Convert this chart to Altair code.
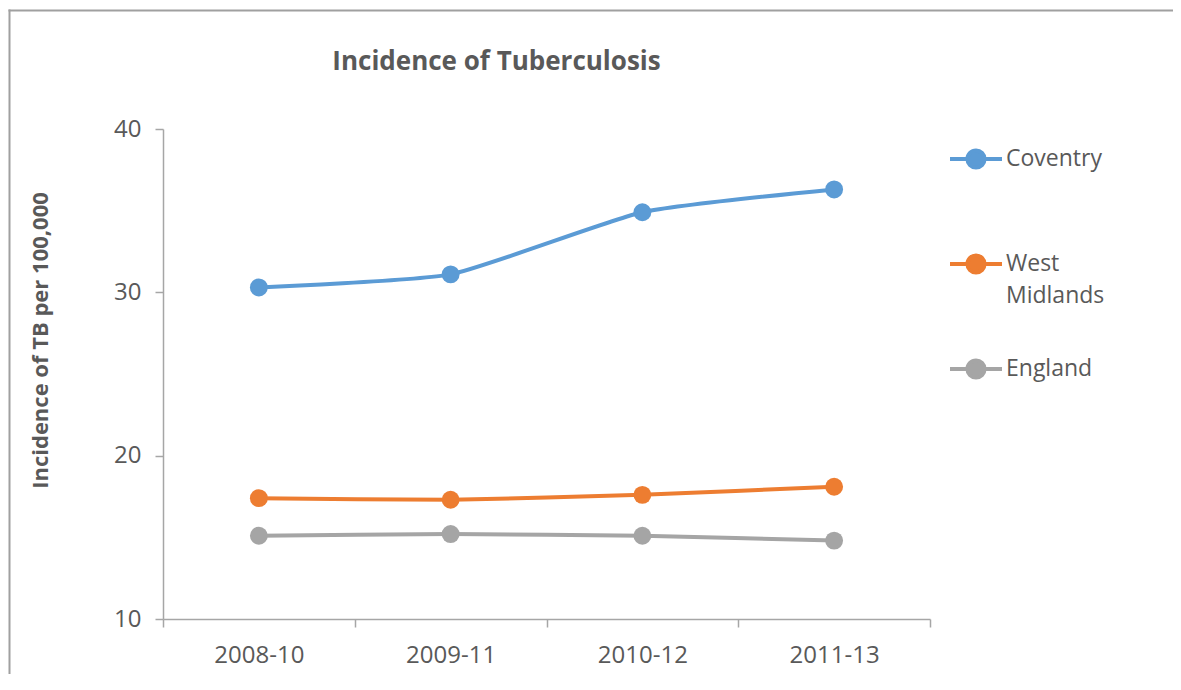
import altair as alt
import pandas as pd

periods = ["2008-10", "2009-11", "2010-12", "2011-13"]
series_names = ["Coventry", "West Midlands", "England"]
coventry = [30.3, 31.1, 34.9, 36.3]
west_midlands = [17.4, 17.3, 17.6, 18.1]
england = [15.1, 15.2, 15.1, 14.8]
series_colors = ["#5B9BD5", "#ED7D31", "#A5A5A5"]
y_ticks = [10, 20, 30, 40]

rows = []
for name, vals in zip(series_names, [coventry, west_midlands, england]):
    for p, v in zip(periods, vals):
        rows.append({"Period": p, "Series": name, "Value": v})
df = pd.DataFrame(rows)

FONT = "Open Sans"
TEXT = "#595959"
AXIS = "#A6A6A6"
FRAME = "#A0A0A0"

legend_symbol = "M-1,0L1,0M0.33,0A0.33,0.33,0,1,1,-0.33,0A0.33,0.33,0,1,1,0.33,0Z"

x = alt.X(
    "Period:N", sort=periods,
    scale=alt.Scale(type="band", paddingInner=0, paddingOuter=0),
    axis=alt.Axis(title=None, labelAngle=0, tickBand="extent", domainColor=AXIS,
                  tickColor=AXIS, tickSize=8, domainWidth=1.5, tickWidth=1.5,
                  labelFont=FONT, labelFontSize=24, labelColor=TEXT, labelPadding=16,
                  grid=False),
)
y = alt.Y(
    "Value:Q",
    scale=alt.Scale(domain=[10, 40], nice=False, zero=False),
    axis=alt.Axis(values=y_ticks, title="Incidence of TB per 100,000",
                  titleFont=FONT, titleFontSize=22, titleFontWeight="bold", titleColor=TEXT,
                  titleX=-123, titleY=211, titleAngle=270, titleAlign="center",
                  titleBaseline="middle",
                  domainColor=AXIS, tickColor=AXIS, tickSize=8, domainWidth=1.5, tickWidth=1.5,
                  labelFont=FONT, labelFontSize=24, labelColor=TEXT, labelPadding=14,
                  grid=False),
)
color = alt.Color(
    "Series:N", sort=series_names,
    scale=alt.Scale(domain=series_names, range=series_colors),
    legend=alt.Legend(title=None, orient="none", legendX=785, legendY=2,
                      symbolType=legend_symbol, symbolSize=2704, symbolStrokeWidth=4,
                      labelFont=FONT, labelFontSize=23, labelColor=TEXT,
                      labelExpr="datum.label == 'West Midlands' ? ['West', 'Midlands'] : [datum.label, ' ']",
                      rowPadding=33, labelOffset=2, padding=0, labelLimit=300),
)

base = alt.Chart(df).encode(x=x, y=y, color=color)
lines = base.mark_line(strokeWidth=4, interpolate="cardinal", tension=0.5)
points = base.mark_circle(size=320, opacity=1)

frame_top = alt.Chart(alt.Data(values=[{}])).mark_rect(
    color=FRAME, opacity=1
).encode(x=alt.value(-154.5), x2=alt.value(1040), y=alt.value(-119.5), y2=alt.value(-117.5))
frame_left = alt.Chart(alt.Data(values=[{}])).mark_rect(
    color=FRAME, opacity=1
).encode(x=alt.value(-154.5), x2=alt.value(-152.5), y=alt.value(-119.5), y2=alt.value(600))

chart = alt.layer(frame_top, frame_left, lines, points).properties(
    width=767, height=490,
    title=alt.Title("Incidence of Tuberculosis", font=FONT, fontSize=26, fontWeight="bold",
                    color=TEXT, anchor="middle", dx=-50, offset=-65),
    padding={"left": 155, "top": 121, "right": 243, "bottom": 55},
    autosize=alt.AutoSizeParams(type="none"),
).configure(
    background="white",
    style={"guide-label": {"lineHeight": 32}},
).configure_view(strokeWidth=0)

chart.save("out.html", embed_options={"renderer": "svg", "actions": False})
